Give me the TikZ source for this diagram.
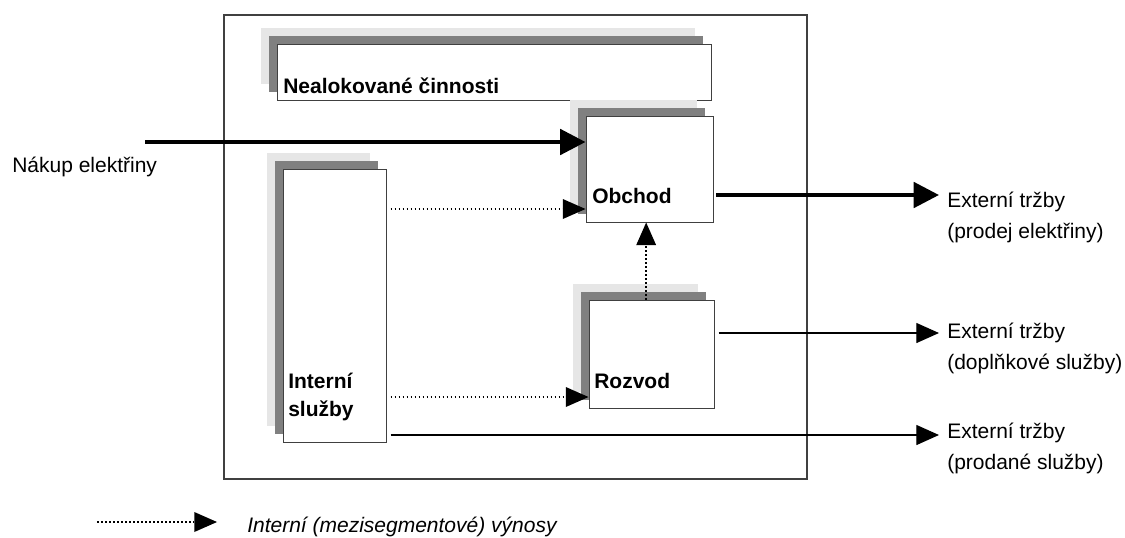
\documentclass[tikz,border=0pt]{standalone}
\usepackage{fontspec}
\setmainfont{Liberation Sans}
\usepackage{tikz}
\usetikzlibrary{arrows.meta,positioning,shadows}

\definecolor{shdark}{HTML}{808080}
\definecolor{shlight}{HTML}{E6E6E6}

\begin{document}
\begin{tikzpicture}[x=0.75pt,y=-0.75pt,>=Triangle,
 seg/.style={draw=black!75,fill=white,line width=0.75pt,inner sep=0pt,
  general shadow={fill=shlight,shadow xshift=-12pt,shadow yshift=12pt},
  general shadow={fill=shdark,shadow xshift=-6pt,shadow yshift=6pt}},
 seglbl/.style={anchor=base west,inner sep=0pt,align=left,
  font=\fontsize{15.75}{21}\selectfont\bfseries},
 txt/.style={anchor=base west,inner sep=0pt,align=left,
  font=\fontsize{15.75}{23.25}\selectfont},
 thickarr/.style={line width=3pt,-{Triangle[length=19pt,width=19pt]}},
 thinarr/.style={line width=0.9pt,-{Triangle[length=17pt,width=15pt]}},
 dotarr/.style={line width=1.2pt,dash pattern=on 1.2pt off 1.8pt,-{Triangle[length=17pt,width=15pt,line width=0pt]}}]
\useasboundingbox (0,0) rectangle (1125,537);
% company frame
\draw[draw=black!75,line width=0.9pt] (224,15) rectangle (807,479);
% segments
\node[seg,minimum width=325.5pt,minimum height=42pt] (neal) at (494,72) {};
\node[seg,minimum width=95.25pt,minimum height=79.5pt] (obchod) at (649.5,169) {};
\node[seg,minimum width=77.25pt,minimum height=204.75pt] (interni) at (334.5,305.5) {};
\node[seg,minimum width=93.75pt,minimum height=81pt] (rozvod) at (651.5,354) {};
\node[seglbl] (nealT) at (283,93) {Nealokované činnosti};
\node[seglbl] (obchodT) at (592,203) {Obchod};
\node[seglbl] (interniT) at (288,416) {Interní\\služby};
\node[seglbl] (rozvodT) at (594,388) {Rozvod};
% outside texts (base = last line)
\node[txt] (nakup) at (12,172) {Nákup elektřiny};
\node[txt] (ext1) at (947,238) {Externí tržby\\(prodej elektřiny)};
\node[txt] (ext2) at (947,369) {Externí tržby\\(doplňkové služby)};
\node[txt] (ext3) at (947,469) {Externí tržby\\(prodané služby)};
\node[txt,font=\fontsize{15.75}{21}\selectfont\itshape] (legT) at (247,532) {Interní (mezisegmentové) výnosy};
\coordinate (nakupS) at (145,142);
\coordinate (e1) at (939,195);
\coordinate (e2) at (939,333);
\coordinate (e3) at (939,435);
\coordinate (legS) at (97,522);
\coordinate (legE) at (217,522);
% flows
\draw[thickarr] (nakupS) -- (nakupS -| obchod.west);
\draw[thickarr] ([xshift=2pt]obchod.east |- e1) -- (e1);
\draw[thinarr] ([xshift=3pt]rozvod.east |- e2) -- (e2);
\draw[thinarr] ([xshift=3pt]interni.east |- e3) -- (e3);
\draw[dotarr] ([xshift=3pt]interni.east |- 0,209) -- (obchod.west |- 0,209);
\draw[dotarr] ([xshift=3pt]interni.east |- 0,397) -- (rozvod.west |- 0,397);
\draw[dotarr] ([xshift=-4pt]rozvod.north) -- ([xshift=-4pt]rozvod.north |- obchod.south);
\draw[dotarr] (legS) -- (legE);
\end{tikzpicture}
\end{document}
